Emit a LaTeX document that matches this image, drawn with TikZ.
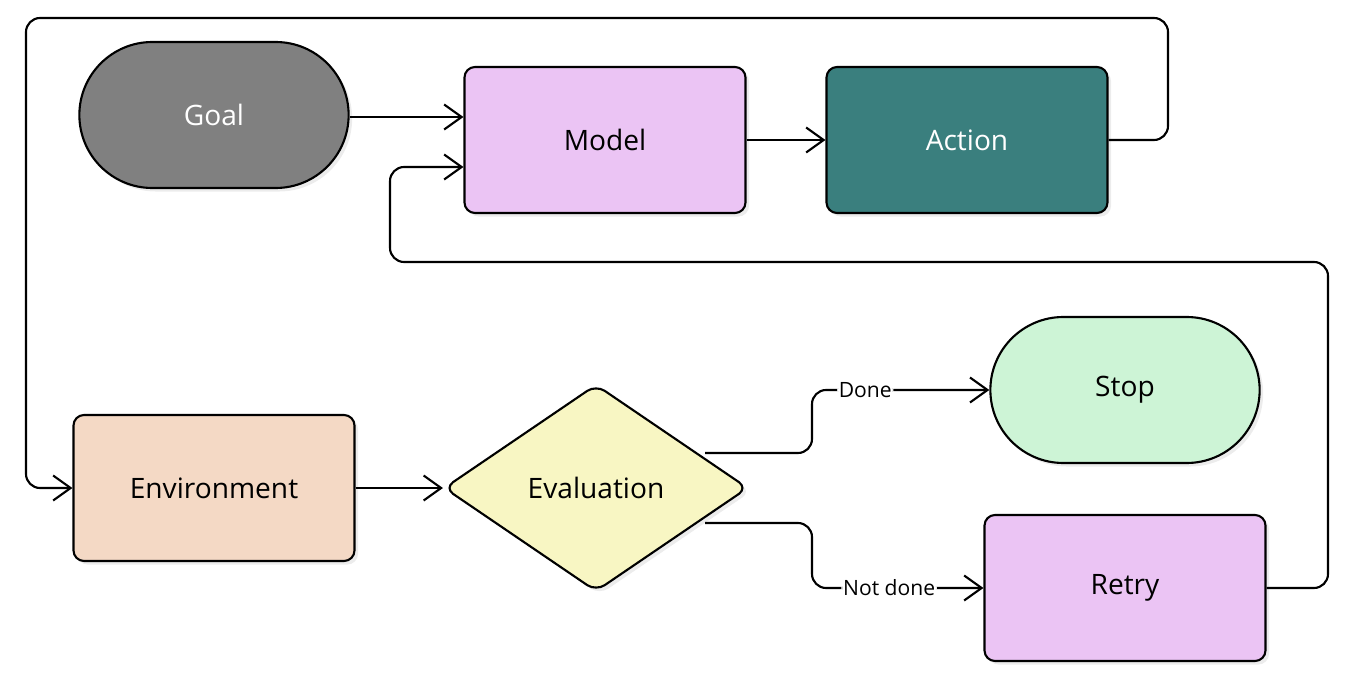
\documentclass[tikz,border=0pt]{standalone}
\usepackage{fontspec}
\setmainfont{Open Sans}
\usetikzlibrary{arrows.meta, shapes.geometric, shapes.misc, positioning, shadows}
\definecolor{goalfill}{HTML}{808080}
\definecolor{modelfill}{HTML}{EBC4F4}
\definecolor{actionfill}{HTML}{3A7F7E}
\definecolor{envfill}{HTML}{F4D9C5}
\definecolor{evalfill}{HTML}{F8F6C3}
\definecolor{stopfill}{HTML}{CDF4D6}
\tikzset{
  box/.style={draw, line width=1.2pt, rounded corners=6pt, minimum width=5.62cm, minimum height=2.92cm,
    font=\fontsize{16}{19}\selectfont, drop shadow={opacity=0.15, shadow xshift=2pt, shadow yshift=-2pt}},
  pill/.style={box, rounded rectangle, rounded corners=0pt},
  link/.style={line width=1.2pt, rounded corners=8pt, -{Straight Barb[length=3.5mm, width=5mm, line width=1.2pt]}},
  tag/.style={fill=white, inner sep=1pt, font=\fontsize{12}{14}\selectfont}
}
\begin{document}
\begin{tikzpicture}
\useasboundingbox (0,0) rectangle (27.08,13.76);

% Nodes
\node (goal) [pill, fill=goalfill, text=white] at (4.28,11.46) {Goal};
\node (model) [box, fill=modelfill] at (12.1,10.96) {Model};
\node (action) [box, fill=actionfill, text=white] at (19.34,10.96) {Action};
\node (env) [box, fill=envfill] at (4.28,4.0) {Environment};
\node (eval) [diamond, draw, line width=1.2pt, rounded corners=6pt, fill=evalfill, aspect=1.47,
  minimum width=6.08cm, minimum height=4.14cm, inner sep=0pt, font=\fontsize{16}{19}\selectfont,
  drop shadow={opacity=0.15, shadow xshift=2pt, shadow yshift=-2pt}] at (11.92,4.0) {Evaluation};
\node (stop) [pill, fill=stopfill] at (22.5,5.96) {Stop};
\node (retry) [box, fill=modelfill] at (22.5,2.0) {Retry};

% Edges
\draw[link] (goal.east |- 0,11.42) -- (model.west |- 0,11.42);
\draw[link] (model) -- (action);
\draw[link] (action.east) -| (23.36,13.4) -| (0.52,4.0) -- (env.west);
\draw[link] (retry.east) -| (26.56,8.52) -| (7.8,10.42) -- (model.west |- 0,10.42);
\draw[link] (env) -- (eval);
\draw[link] (14.1,4.7) -| (16.24,5.96) -- node[tag, pos=0.3] {Done} (stop.west);
\draw[link] (14.1,3.3) -| (16.24,2.0) -- node[tag, pos=0.45] {Not done} (retry.west);

\end{tikzpicture}
\end{document}
